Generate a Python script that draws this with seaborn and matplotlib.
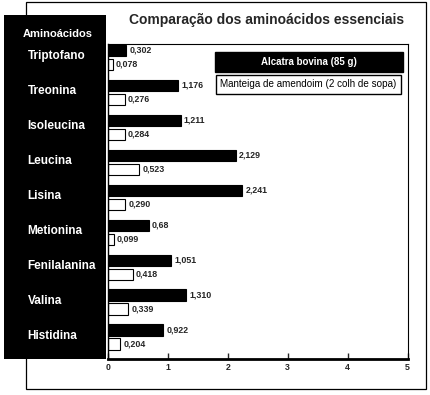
import matplotlib
matplotlib.use("Agg")
import matplotlib.pyplot as plt
import matplotlib.transforms as mtransforms
from matplotlib.patches import Rectangle
import pandas as pd
import seaborn as sns

aminoacidos = ["Triptofano", "Treonina", "Isoleucina", "Leucina", "Lisina",
               "Metionina", "Fenilalanina", "Valina", "Histidina"]
alcatra = [0.302, 1.176, 1.211, 2.129, 2.241, 0.68, 1.051, 1.310, 0.922]
manteiga = [0.078, 0.276, 0.284, 0.523, 0.290, 0.099, 0.418, 0.339, 0.204]
alcatra_txt = ["0,302", "1,176", "1,211", "2,129", "2,241", "0,68", "1,051", "1,310", "0,922"]
manteiga_txt = ["0,078", "0,276", "0,284", "0,523", "0,290", "0,099", "0,418", "0,339", "0,204"]
series = ["Alcatra bovina (85 g)", "Manteiga de amendoim (2 colh de sopa)"]
xticks = [0, 1, 2, 3, 4, 5]

df = pd.DataFrame({
    "aminoacido": aminoacidos * 2,
    "valor": alcatra + manteiga,
    "serie": [series[0]] * len(aminoacidos) + [series[1]] * len(aminoacidos),
})

sns.set_style("white")
plt.rcParams["font.family"] = ["Liberation Sans", "DejaVu Sans"]

W, H = 430, 395
fig = plt.figure(figsize=(W / 100, H / 100), dpi=100)


def fx(px):
    return px / W


def fy(py):
    return 1 - py / H


### outer frame and black label panel (drawn below everything else)
fig.add_artist(Rectangle((fx(26), fy(389)), fx(425.5) - fx(26), fy(2) - fy(389),
                         transform=fig.transFigure, fill=False, ec="black", lw=0.9,
                         zorder=-2))
fig.add_artist(Rectangle((fx(4), fy(359)), fx(105.5) - fx(4), fy(15) - fy(359),
                         transform=fig.transFigure, fc="black", ec="none", zorder=-1))

ax = fig.add_axes([fx(108), fy(359), fx(407.5) - fx(108), fy(43.5) - fy(359)])
sns.barplot(data=df, y="aminoacido", x="valor", hue="serie", orient="h",
            palette=["black", "white"], edgecolor="black", linewidth=0.8,
            width=0.8, gap=0.2, legend=False, ax=ax)

for cont, labs in zip(ax.containers, [alcatra_txt, manteiga_txt]):
    ax.bar_label(cont, labels=labs, padding=2.2, fontsize=6.4, fontweight="bold")

ax.set_xlim(0, 5)
ax.set_ylim(8.63, -0.40)
ax.set_xticks(xticks)
ax.set_xticklabels([str(t) for t in xticks], fontsize=6.3, fontweight="bold")
ax.set_yticks([])
ax.set_xlabel("")
ax.set_ylabel("")
ax.tick_params(axis="x", direction="in", length=4, width=1, pad=3, bottom=True)
for side, lw in [("bottom", 2), ("left", 1), ("top", 0.8), ("right", 0.8)]:
    ax.spines[side].set_visible(True)
    ax.spines[side].set_linewidth(lw)
    ax.spines[side].set_color("black")

### category labels in the black panel
trans = mtransforms.blended_transform_factory(fig.transFigure, ax.transData)
for i, name in enumerate(aminoacidos):
    fig.text(fx(27.5), i - 0.04, name, transform=trans, color="white",
             fontsize=8.5, fontweight="bold", ha="left", va="center")
fig.text(fx(57.5), fy(34), "Aminoácidos", color="white", fontsize=8,
         fontweight="bold", ha="center", va="center")

fig.text(fx(267), fy(20), "Comparação dos aminoácidos essenciais",
         fontsize=10, fontweight="bold", ha="center", va="center")

### legend boxes
fig.add_artist(Rectangle((fx(215), fy(72)), fx(403) - fx(215), fy(52) - fy(72),
                         transform=fig.transFigure, fc="black", ec="black"))
fig.text(fx(309), fy(62), series[0], color="white", fontsize=7,
         fontweight="bold", ha="center", va="center")
fig.add_artist(Rectangle((fx(216), fy(94)), fx(401) - fx(216), fy(74.5) - fy(94),
                         transform=fig.transFigure, fc="white", ec="black", lw=1))
fig.text(fx(308.5), fy(84), series[1], color="black", fontsize=7.1,
         ha="center", va="center")

fig.savefig("out.png", dpi=100)
